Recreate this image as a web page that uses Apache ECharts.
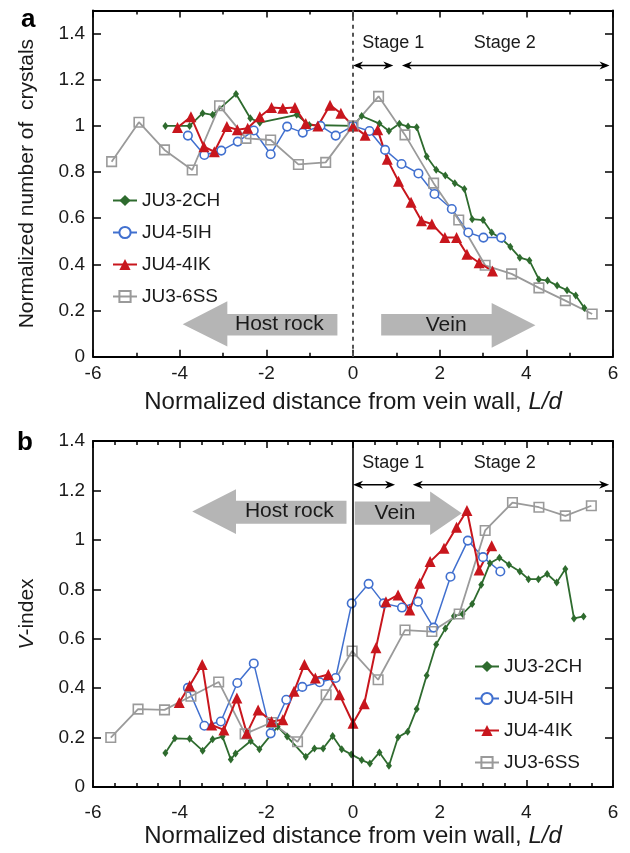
<!DOCTYPE html>
<html><head><meta charset="utf-8">
<script src="https://cdn.jsdelivr.net/npm/echarts@6/dist/echarts.min.js"></script>
<style>html,body{margin:0;padding:0;background:#fff}#c{width:630px;height:853px}</style>
</head><body><div id="c"></div>
<script>
// ---------------- data ----------------
const seriesNames = ['JU3-2CH', 'JU4-5IH', 'JU4-4IK', 'JU3-6SS'];
const xTickValues = [-6, -4, -2, 0, 2, 4, 6];

// panel a : normalized number of crystals
const a_2CH = [[-4.33,1.0],[-3.77,1.0],[-3.47,1.055],[-3.24,1.048],[-2.70,1.138],[-2.37,1.033],[-2.15,1.014],[-1.30,1.048],[-1.01,1.004],[0,1.0],[0.2,1.043],[0.61,1.01],[0.83,0.978],[1.07,1.009],[1.27,0.997],[1.47,0.994],[1.70,0.867],[1.92,0.81],[2.13,0.785],[2.35,0.752],[2.57,0.727],[2.75,0.596],[3.0,0.592],[3.2,0.538],[3.44,0.509],[3.63,0.476],[3.85,0.429],[4.07,0.417],[4.29,0.335],[4.49,0.33],[4.71,0.308],[4.94,0.288],[5.14,0.265],[5.34,0.211]];
const a_5IH = [[-3.81,0.958],[-3.43,0.874],[-3.04,0.893],[-2.66,0.932],[-2.29,0.98],[-1.90,0.877],[-1.52,0.997],[-1.16,0.971],[-0.75,1.0],[-0.40,0.958],[0,1.0],[0.38,0.978],[0.74,0.896],[1.12,0.835],[1.51,0.794],[1.88,0.705],[2.28,0.64],[2.66,0.538],[3.01,0.516],[3.42,0.516]];
const a_4IK = [[-4.05,0.993],[-3.74,1.04],[-3.44,0.91],[-3.2,0.888],[-2.91,0.997],[-2.67,0.983],[-2.43,0.99],[-2.15,1.04],[-1.88,1.08],[-1.62,1.077],[-1.34,1.08],[-1.09,1.01],[-0.81,1.0],[-0.53,1.09],[-0.28,1.055],[0,1.0],[0.28,0.96],[0.57,0.983],[0.79,0.855],[1.05,0.76],[1.34,0.669],[1.58,0.589],[1.82,0.575],[2.12,0.516],[2.39,0.516],[2.63,0.444],[2.91,0.407],[3.22,0.371]];
const a_6SS = [[-5.57,0.845],[-4.94,1.016],[-4.35,0.896],[-3.71,0.809],[-3.08,1.087],[-2.47,0.946],[-1.9,0.939],[-1.26,0.833],[-0.63,0.842],[0,1.0],[0.59,1.128],[1.2,0.961],[1.86,0.752],[2.44,0.592],[3.05,0.396],[3.66,0.359],[4.29,0.298],[4.9,0.243],[5.52,0.185]];

// panel b : V-index
const b_2CH = [[-4.33,0.138],[-4.11,0.197],[-3.77,0.195],[-3.47,0.147],[-3.24,0.193],[-3.01,0.204],[-2.82,0.111],[-2.71,0.136],[-2.36,0.186],[-2.16,0.153],[-1.74,0.244],[-1.52,0.204],[-1.09,0.122],[-0.89,0.156],[-0.69,0.156],[-0.47,0.206],[-0.26,0.153],[-0.04,0.132],[0.2,0.109],[0.39,0.095],[0.61,0.14],[0.83,0.086],[1.04,0.201],[1.26,0.224],[1.47,0.316],[1.70,0.451],[1.92,0.577],[2.13,0.641],[2.33,0.692],[2.53,0.70],[2.75,0.74],[2.96,0.818],[3.16,0.905],[3.38,0.928],[3.6,0.899],[3.85,0.872],[4.05,0.841],[4.28,0.841],[4.48,0.862],[4.7,0.827],[4.9,0.882],[5.1,0.682],[5.32,0.69]];
const b_5IH = [[-3.81,0.401],[-3.43,0.248],[-3.05,0.265],[-2.67,0.421],[-2.29,0.5],[-1.9,0.217],[-1.54,0.353],[-1.17,0.405],[-0.77,0.424],[-0.40,0.441],[-0.03,0.743],[0.36,0.822],[0.71,0.743],[1.13,0.726],[1.5,0.75],[1.86,0.645],[2.25,0.851],[2.65,0.997],[3.0,0.93],[3.4,0.872]];
const b_4IK = [[-4.01,0.342],[-3.77,0.41],[-3.48,0.496],[-3.26,0.251],[-2.98,0.231],[-2.68,0.36],[-2.45,0.217],[-2.19,0.312],[-1.88,0.265],[-1.62,0.272],[-1.36,0.387],[-1.12,0.496],[-0.87,0.441],[-0.57,0.455],[-0.31,0.373],[0,0.258],[0.26,0.337],[0.53,0.563],[0.76,0.75],[1.04,0.777],[1.31,0.716],[1.54,0.824],[1.78,0.912],[2.1,0.966],[2.39,1.051],[2.63,1.119],[2.91,0.878],[3.2,0.976]];
const b_6SS = [[-5.59,0.2],[-4.96,0.315],[-4.35,0.312],[-3.74,0.367],[-3.1,0.425],[-2.49,0.215],[-1.88,0.261],[-1.28,0.183],[-0.62,0.373],[-0.02,0.55],[0.58,0.434],[1.2,0.635],[1.82,0.629],[2.45,0.70],[3.05,1.038],[3.68,1.151],[4.29,1.132],[4.9,1.097],[5.5,1.138]];

// ---------------- annotations (data coordinates) ----------------
const blockArrowsA = [
  {tip:-3.93, base:-2.90, tail:-0.36, ty:0.141, bt:0.185, bb:0.092, ht:0.240, hb:0.044, text:'Host rock', lx:-1.70},
  {tip:4.21, base:3.20, tail:0.65, ty:0.136, bt:0.185, bb:0.092, ht:0.233, hb:0.039, text:'Vein', lx:2.15}
];
const blockArrowsB = [
  {tip:-3.71, base:-2.70, tail:-0.15, ty:1.115, bt:1.158, bb:1.065, ht:1.205, hb:1.024, text:'Host rock', lx:-1.47},
  {tip:2.51, base:1.78, tail:0.04, ty:1.108, bt:1.155, bb:1.061, ht:1.196, hb:1.020, text:'Vein', lx:0.97}
];
const stageA = [{x0:0, x1:0.93, y:1.262, text:'Stage 1', tx:0.93, ty:1.357},{x0:1.13, x1:5.92, y:1.262, text:'Stage 2', tx:3.5, ty:1.357}];
const stageB = [{x0:0, x1:0.97, y:1.223, text:'Stage 1', tx:0.93, ty:1.31},{x0:1.38, x1:5.91, y:1.223, text:'Stage 2', tx:3.5, ty:1.31}];

// ---------------- styles ----------------
const FONT = '"Liberation Sans", Arial, Helvetica, sans-serif';
const TXT = '#1a1a1a';
const sty = {
  'JU3-2CH': {line:'#2e6b2e', symbol:'diamond', size:[6,8], fill:'#2e6b2e', border:'#2e6b2e', bw:0, lw:1.8},
  'JU4-5IH': {line:'#4170cf', symbol:'circle', size:8.5, fill:'#ffffff', border:'#4170cf', bw:1.6, lw:1.5},
  'JU4-4IK': {line:'#c8161d', symbol:'triangle', size:11, fill:'#c8161d', border:'#c8161d', bw:0, lw:2},
  'JU3-6SS': {line:'#9a9a9a', symbol:'rect', size:9.5, fill:'rgba(255,255,255,0)', border:'#9a9a9a', bw:1.6, lw:1.8}
};

const chart = echarts.init(document.getElementById('c'), null, {renderer:'canvas'});

function xAxes(gi, minorSplit, labelMargin, nameGap){
  const common = {
    gridIndex: gi, type:'value', min:-6, max:6, interval:2,
    axisLine:{show:true, onZero:false, lineStyle:{color:'#000', width:1.8}},
    axisTick:{show:true, inside:true, length:7, lineStyle:{color:'#000', width:1.5}},
    minorTick:{show:true, splitNumber:minorSplit, length:4, lineStyle:{color:'#000', width:1.5}},
    splitLine:{show:false}, minorSplitLine:{show:false}
  };
  return [
    Object.assign({}, common, {position:'bottom',
      axisLabel:{show:true, margin:labelMargin, fontSize:19, color:TXT, fontFamily:FONT},
      name:'Normalized distance from vein wall, {i|L/d}', nameLocation:'middle', nameGap:nameGap,
      nameTextStyle:{fontSize:24, color:TXT, fontFamily:FONT, rich:{i:{fontSize:24, fontStyle:'italic', color:TXT, fontFamily:FONT}}}}),
    Object.assign({}, common, {position:'top', axisLabel:{show:false}})
  ];
}
function yAxes(gi, max, name, showMax){
  const common = {
    gridIndex: gi, type:'value', min:0, max:max, interval:0.2,
    axisLine:{show:true, onZero:false, lineStyle:{color:'#000', width:1.8}},
    axisTick:{show:true, inside:true, length:8, lineStyle:{color:'#000', width:1.5}},
    splitLine:{show:false}
  };
  return [
    Object.assign({}, common, {position:'left',
      axisLabel:{show:true, margin:8, fontSize:19, color:TXT, fontFamily:FONT, showMaxLabel:showMax},
      name:name, nameLocation:'middle', nameGap:55,
      nameTextStyle:{fontSize:21, color:TXT, fontFamily:FONT, rich:{i:{fontSize:21, fontStyle:'italic', color:TXT, fontFamily:FONT}}}}),
    Object.assign({}, common, {position:'right', axisLabel:{show:false}})
  ];
}

function lineSeries(name, data, xi, yi, vline){
  const s = sty[name];
  const o = {
    name, type:'line', data, xAxisIndex:xi, yAxisIndex:yi, z:3,
    symbol:s.symbol, symbolSize:s.size, showAllSymbol:true,
    lineStyle:{color:s.line, width:s.lw},
    itemStyle:{color:s.fill, borderColor:s.border, borderWidth:s.bw},
    emphasis:{disabled:true}, animation:false
  };
  if (vline) {
    o.markLine = {silent:true, symbol:'none', label:{show:false}, animation:false,
      lineStyle:vline, data:[{xAxis:0}]};
  }
  return o;
}

function blockSeries(arr, xi, yi){
  return {
    type:'custom', xAxisIndex:xi, yAxisIndex:yi, z:1, silent:true, animation:false,
    data: arr.map((a,i)=>[a.lx, a.ty]),
    renderItem: function(params, api){
      const a = arr[params.dataIndex];
      const P = (x,y)=>api.coord([x,y]);
      const pts = [P(a.tip,a.ty), P(a.base,a.ht), P(a.base,a.bt), P(a.tail,a.bt), P(a.tail,a.bb), P(a.base,a.bb), P(a.base,a.hb)];
      const t = P(a.lx, a.ty);
      return {type:'group', children:[
        {type:'polygon', shape:{points:pts}, style:{fill:'#b5b5b5'}},
        {type:'text', x:t[0], y:t[1], style:{text:a.text, fontSize:21, fontFamily:FONT, fill:TXT, align:'center', verticalAlign:'middle'}}
      ]};
    }
  };
}

function stageSeries(arr, xi, yi){
  return {
    type:'custom', xAxisIndex:xi, yAxisIndex:yi, z:4, silent:true, animation:false,
    data: arr.map(a=>[a.tx, a.ty]),
    renderItem: function(params, api){
      const a = arr[params.dataIndex];
      const p0 = api.coord([a.x0, a.y]), p1 = api.coord([a.x1, a.y]);
      const t = api.coord([a.tx, a.ty]);
      const L = 10, W = 4;
      return {type:'group', children:[
        {type:'line', shape:{x1:p0[0]+3, y1:p0[1], x2:p1[0]-3, y2:p1[1]}, style:{stroke:'#000', lineWidth:1.6}},
        {type:'polygon', shape:{points:[[p0[0],p0[1]],[p0[0]+L,p0[1]-W],[p0[0]+L*0.7,p0[1]],[p0[0]+L,p0[1]+W]]}, style:{fill:'#000'}},
        {type:'polygon', shape:{points:[[p1[0],p1[1]],[p1[0]-L,p1[1]-W],[p1[0]-L*0.7,p1[1]],[p1[0]-L,p1[1]+W]]}, style:{fill:'#000'}},
        {type:'text', x:t[0], y:t[1], style:{text:a.text, fontSize:18, fontFamily:FONT, fill:TXT, align:'center', verticalAlign:'middle'}}
      ]};
    }
  };
}

const legendCommon = {
  orient:'vertical', padding:0, itemWidth:24, itemHeight:14, itemGap:13,
  textStyle:{fontSize:19, color:TXT, fontFamily:FONT}, selectedMode:false, data:seriesNames
};

const option = {
  backgroundColor:'#fff',
  animation:false,
  title:[
    {text:'a', left:16, top:2, textStyle:{fontSize:26, fontWeight:'bold', color:'#000', fontFamily:FONT}},
    {text:'b', left:12, top:425, textStyle:{fontSize:26, fontWeight:'bold', color:'#000', fontFamily:FONT}}
  ],
  grid:[
    {left:93, right:17, top:10.5, height:346.2},
    {left:93, right:17, top:441, height:346}
  ],
  xAxis:[].concat(xAxes(0, 2, 8, 34), xAxes(1, 4, 16, 37)),
  yAxis:[].concat(yAxes(0, 1.5, 'Normalized number of  crystals', false), yAxes(1, 1.4, '{i|V}-index', true)),
  legend:[
    Object.assign({}, legendCommon, {left:112, top:191}),
    Object.assign({}, legendCommon, {left:474, top:657})
  ],
  series:[
    blockSeries(blockArrowsA, 0, 0),
    stageSeries(stageA, 0, 0),
    lineSeries('JU3-2CH', a_2CH, 0, 0, {color:'#555', width:2, type:[4,4]}),
    lineSeries('JU4-5IH', a_5IH, 0, 0),
    lineSeries('JU3-6SS', a_6SS, 0, 0),
    lineSeries('JU4-4IK', a_4IK, 0, 0),
    blockSeries(blockArrowsB, 2, 2),
    stageSeries(stageB, 2, 2),
    lineSeries('JU3-2CH', b_2CH, 2, 2, {color:'#000', width:1.6, type:'solid'}),
    lineSeries('JU4-5IH', b_5IH, 2, 2),
    lineSeries('JU3-6SS', b_6SS, 2, 2),
    lineSeries('JU4-4IK', b_4IK, 2, 2)
  ]
};
chart.setOption(option);
</script>
</body></html>
